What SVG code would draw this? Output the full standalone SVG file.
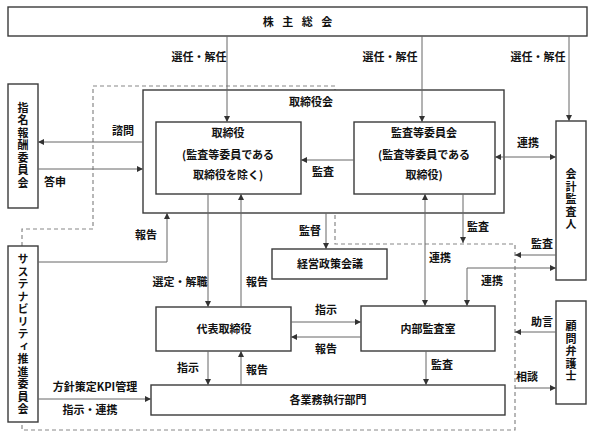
<svg xmlns="http://www.w3.org/2000/svg" width="593" height="439" viewBox="0 0 593 439">
<defs>
<style>
.box{fill:#fff;stroke:#3a3a3a;stroke-width:1.4}
.t{font-family:"Noto Sans CJK JP","Noto Sans CJK SC",sans-serif;font-size:11px;font-weight:bold;fill:#111;text-anchor:middle}
.ln{fill:none;stroke:#666;stroke-width:1}
.dash{fill:none;stroke:#888;stroke-width:1.2;stroke-dasharray:4 3}
.v{writing-mode:vertical-rl;letter-spacing:1.5px}
</style>
<marker id="a" viewBox="0 0 10 10" refX="10" refY="5" markerWidth="6" markerHeight="6" orient="auto-start-reverse">
<path d="M0,0L10,5L0,10z" fill="#333"/>
</marker>
</defs>
<rect width="593" height="439" fill="#fff"/>

<path class="dash" d="M22,246 V229 H93 V86 H335 V244 H515 V430 H22 V422"/>

<g id="shareholders">
<rect class="box" x="8" y="7" width="579" height="29"/>
<text class="t" x="299" y="26" style="letter-spacing:3px">株 主 総 会</text>
</g>

<g id="board">
<rect class="box" x="143" y="90" width="361" height="123"/>
<text class="t" x="333" y="106" style="text-anchor:end">取締役会</text>
</g>

<g id="directors">
<rect class="box" x="156" y="122" width="145" height="72"/>
<text class="t" x="228" y="137">取締役</text>
<text class="t" x="228" y="159">(監査等委員である</text>
<text class="t" x="228" y="179">取締役を除く)</text>
</g>

<g id="audit-committee">
<rect class="box" x="354" y="122" width="141" height="72"/>
<text class="t" x="424" y="137">監査等委員会</text>
<text class="t" x="424" y="159">(監査等委員である</text>
<text class="t" x="424" y="179">取締役)</text>
</g>

<g id="management-council">
<rect class="box" x="272" y="249" width="115" height="30"/>
<text class="t" x="330" y="268">経営政策会議</text>
</g>

<g id="representative">
<rect class="box" x="156" y="307" width="135" height="44"/>
<text class="t" x="224" y="333">代表取締役</text>
</g>

<g id="internal-audit">
<rect class="box" x="361" y="306" width="134" height="45"/>
<text class="t" x="428" y="333">内部監査室</text>
</g>

<g id="operations">
<rect class="box" x="151" y="385" width="354" height="30"/>
<text class="t" x="328" y="404">各業務執行部門</text>
</g>

<g id="nomination">
<rect class="box" x="8" y="84" width="30" height="124"/>
<text class="t v" x="23" y="146">指名報酬委員会</text>
</g>

<g id="sustainability">
<rect class="box" x="8" y="246" width="30" height="176"/>
<text class="t v" x="23" y="335">サステナビリティ推進委員会</text>
</g>

<g id="accounting-auditor">
<rect class="box" x="556" y="121" width="30" height="159"/>
<text class="t v" x="571" y="200">会計監査人</text>
</g>

<g id="lawyer">
<rect class="box" x="556" y="301" width="30" height="103"/>
<text class="t v" x="571" y="352">顧問弁護士</text>
</g>

<g id="connectors">
<line class="ln" x1="227" y1="36" x2="227" y2="122" marker-end="url(#a)"/>
<line class="ln" x1="422" y1="36" x2="422" y2="122" marker-end="url(#a)"/>
<line class="ln" x1="569" y1="36" x2="569" y2="121" marker-end="url(#a)"/>
<line class="ln" x1="143" y1="142" x2="38" y2="142" marker-end="url(#a)"/>
<line class="ln" x1="38" y1="169" x2="143" y2="169" marker-end="url(#a)"/>
<path class="ln" d="M38,262 H167 V213" marker-end="url(#a)"/>
<line class="ln" x1="208" y1="194" x2="208" y2="307" marker-end="url(#a)"/>
<line class="ln" x1="241" y1="307" x2="241" y2="194" marker-end="url(#a)"/>
<line class="ln" x1="208" y1="351" x2="208" y2="385" marker-end="url(#a)"/>
<line class="ln" x1="241" y1="385" x2="241" y2="351" marker-end="url(#a)"/>
<line class="ln" x1="38" y1="399" x2="151" y2="399" marker-end="url(#a)"/>
<line class="ln" x1="354" y1="160" x2="301" y2="160" marker-end="url(#a)"/>
<line class="ln" x1="326" y1="213" x2="326" y2="249" marker-end="url(#a)"/>
<line class="ln" x1="425" y1="194" x2="425" y2="306" marker-start="url(#a)" marker-end="url(#a)"/>
<line class="ln" x1="463" y1="194" x2="463" y2="243" marker-end="url(#a)"/>
<line class="ln" x1="495" y1="157" x2="556" y2="157" marker-start="url(#a)" marker-end="url(#a)"/>
<line class="ln" x1="556" y1="255" x2="515" y2="255" marker-end="url(#a)"/>
<path class="ln" d="M467,306 V268 H556" marker-start="url(#a)" marker-end="url(#a)"/>
<line class="ln" x1="291" y1="322" x2="361" y2="322" marker-end="url(#a)"/>
<line class="ln" x1="361" y1="337" x2="291" y2="337" marker-end="url(#a)"/>
<line class="ln" x1="426" y1="351" x2="426" y2="385" marker-end="url(#a)"/>
<line class="ln" x1="556" y1="332" x2="515" y2="332" marker-end="url(#a)"/>
<line class="ln" x1="515" y1="388" x2="556" y2="388" marker-end="url(#a)"/>
</g>

<g id="labels">
<text class="t" x="199" y="61">選任・解任</text>
<text class="t" x="390" y="61">選任・解任</text>
<text class="t" x="538" y="61">選任・解任</text>
<text class="t" x="123" y="135">諮問</text>
<text class="t" x="55" y="186">答申</text>
<text class="t" x="146" y="239">報告</text>
<text class="t" x="323" y="176">監査</text>
<text class="t" x="310" y="235">監督</text>
<text class="t" x="440" y="262">連携</text>
<text class="t" x="478" y="231">監査</text>
<text class="t" x="528" y="147">連携</text>
<text class="t" x="542" y="248">監査</text>
<text class="t" x="492" y="285">連携</text>
<text class="t" x="180" y="286">選定・解職</text>
<text class="t" x="257" y="286">報告</text>
<text class="t" x="326" y="314">指示</text>
<text class="t" x="326" y="353">報告</text>
<text class="t" x="188" y="372">指示</text>
<text class="t" x="257" y="374">報告</text>
<text class="t" x="442" y="369">監査</text>
<text class="t" x="95" y="391">方針策定KPI管理</text>
<text class="t" x="90" y="414">指示・連携</text>
<text class="t" x="542" y="326">助言</text>
<text class="t" x="527" y="381">相談</text>
</g>
</svg>
